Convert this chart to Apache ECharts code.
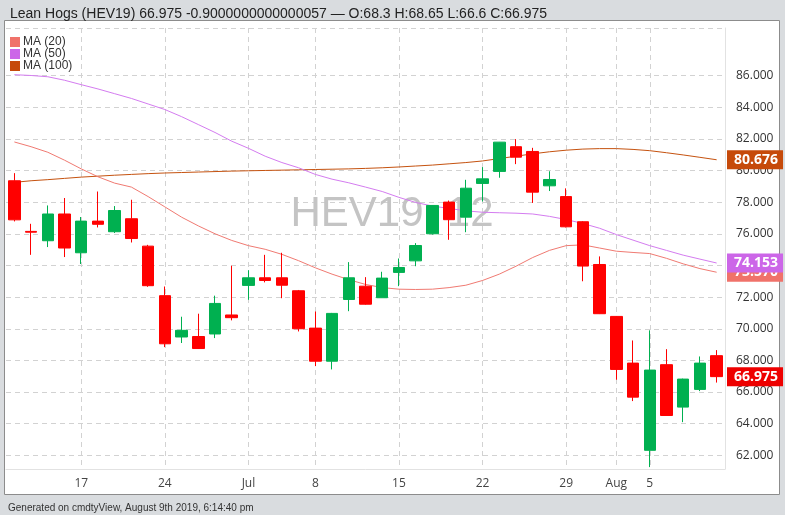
<!DOCTYPE html>
<html>
<head>
<meta charset="utf-8">
<title>Lean Hogs (HEV19)</title>
<script src="https://cdn.jsdelivr.net/npm/echarts@6/dist/echarts.min.js"></script>
<style>
    html, body { margin: 0; padding: 0; background: #d9dcdf; }
    #chart { width: 785px; height: 515px; }
</style>
</head>
<body>
<div id="chart"></div>
<script>
// trading days, 11 Jun - 9 Aug 2019 (Jul 4 closed)
var dates = ['6/11','6/12','6/13','6/14','6/17','6/18','6/19','6/20','6/21',
    '6/24','6/25','6/26','6/27','6/28','7/1','7/2','7/3','7/5',
    '7/8','7/9','7/10','7/11','7/12','7/15','7/16','7/17','7/18','7/19',
    '7/22','7/23','7/24','7/25','7/26','7/29','7/30','7/31','8/1','8/2',
    '8/5','8/6','8/7','8/8','8/9'];

var opens  = [79.35,76.15,75.56,77.25,74.80,76.80,76.13,76.95,75.22,
    72.09,69.48,69.51,69.67,70.87,72.74,73.22,73.22,72.40,
    70.04,67.95,71.85,72.69,71.96,73.56,74.29,76.00,78.00,77.05,
    79.18,79.94,81.50,81.20,79.03,78.35,76.76,74.06,70.78,67.83,
    62.32,67.73,65.05,66.17,68.30];
var highs  = [79.83,76.63,77.79,78.26,77.06,78.67,77.75,78.15,75.30,
    72.67,70.76,70.95,72.09,73.98,73.70,74.67,74.80,72.45,
    71.09,71.00,74.21,73.26,73.60,74.44,75.41,77.80,78.10,79.41,
    80.21,81.80,81.98,81.43,79.95,78.87,76.80,74.57,70.80,69.26,
    69.90,68.71,66.85,68.25,68.65];
var lows   = [76.78,74.67,75.16,74.53,74.09,76.40,76.05,75.45,72.65,
    68.84,69.10,68.72,69.41,70.53,71.83,72.93,71.93,69.83,
    67.64,67.43,71.11,71.52,71.96,72.69,73.95,75.95,75.62,76.10,
    78.04,79.54,80.40,77.95,78.70,76.40,73.00,70.93,66.78,65.43,
    61.26,64.52,64.10,66.06,66.60];
var closes = [76.88,76.10,77.25,75.10,76.80,76.60,77.47,75.70,72.72,
    69.05,69.90,68.75,71.60,70.70,73.22,73.05,72.75,70.00,
    67.95,70.97,73.22,71.55,73.20,73.87,75.26,77.79,76.89,78.88,
    79.47,81.79,80.84,78.63,79.43,76.44,73.96,70.95,67.43,65.68,
    67.39,64.52,66.82,67.83,66.975];

var ma20  = [81.80,81.50,81.15,80.65,80.10,79.60,79.20,78.95,78.35,
    77.70,77.05,76.50,76.00,75.58,75.25,75.02,74.70,74.30,
    73.85,73.45,73.10,72.80,72.60,72.50,72.48,72.50,72.60,72.75,
    73.05,73.45,73.95,74.50,74.95,75.25,75.30,75.10,74.90,74.82,
    74.75,74.45,74.10,73.80,73.57];
var ma50  = [86.05,86.00,85.92,85.70,85.42,85.15,84.85,84.55,84.20,
    83.85,83.40,82.90,82.40,81.85,81.40,80.90,80.50,80.17,
    79.75,79.45,79.22,78.95,78.67,78.30,77.98,77.75,77.60,77.45,
    77.36,77.33,77.30,77.25,77.10,76.90,76.65,76.35,75.95,75.60,
    75.25,74.95,74.65,74.40,74.153];
var ma100 = [79.25,79.35,79.42,79.50,79.58,79.64,79.70,79.75,79.80,
    79.84,79.87,79.90,79.93,79.96,79.98,80.00,80.02,80.04,
    80.06,80.08,80.10,80.13,80.17,80.22,80.28,80.34,80.42,80.50,
    80.60,80.75,80.90,81.05,81.18,81.28,81.35,81.38,81.38,81.33,
    81.25,81.12,80.98,80.83,80.676];

var xTickIndex = [4, 9, 14, 18, 23, 28, 33, 36, 38];
var xTickText  = ['17', '24', 'Jul', '8', '15', '22', '29', 'Aug', '5'];
var yTicks = [62, 64, 66, 68, 70, 72, 74, 76, 78, 80, 82, 84, 86];

var candles = [];
for (var i = 0; i < dates.length; i++) {
    candles.push([opens[i], closes[i], lows[i], highs[i]]);
}

function isTick(idx) { return xTickIndex.indexOf(idx) >= 0; }

// coloured tag on the price axis for the last value
function lastTag(v, bg) {
    return {
        symbol: 'none', silent: true, animation: false, precision: 3,
        lineStyle: { color: 'rgba(0,0,0,0)', width: 1 },
        label: {
            show: true, position: 'end', distance: 2,
            formatter: function (p) { return Number(p.value).toFixed(3); },
            backgroundColor: bg, color: '#fff', fontSize: 14, fontWeight: 'bold',
            fontFamily: 'Open Sans', padding: [3, 5, 2, 7]
        },
        data: [{ yAxis: v }]
    };
}

var mychart = echarts.init(document.getElementById('chart'));
var options = {
    backgroundColor: '#d9dcdf',
    animation: false,
    textStyle: { fontFamily: 'Liberation Sans, Arial, sans-serif' },
    title: [
        { text: 'Lean Hogs (HEV19) 66.975 -0.9000000000000057 \u2014 O:68.3 H:68.65 L:66.6 C:66.975',
          left: 5, top: 2, textStyle: { fontSize: 14, fontWeight: 'normal', color: '#222' } },
        { text: 'Generated on cmdtyView, August 9th 2019, 6:14:40 pm',
          left: 3, top: 498, textStyle: { fontSize: 10, fontWeight: 'normal', color: '#333' } }
    ],
    graphic: [
        { type: 'rect', z: -10, shape: { x: 4.5, y: 20.5, width: 775, height: 474 },
          style: { fill: '#fff', stroke: '#8c8c8c', lineWidth: 1 } },
        { type: 'text', z: 1, x: 392, y: 214,
          style: { text: 'HEV19, 12', align: 'center', verticalAlign: 'middle',
                   fontSize: 42, fontFamily: 'Liberation Sans', fill: '#c4c4c4' } }
    ],
    legend: {
        data: ['MA (20)', 'MA (50)', 'MA (100)'],
        orient: 'vertical', left: 5, top: 31, itemWidth: 10, itemHeight: 10, itemGap: 0,
        icon: 'rect', textStyle: { fontSize: 12, lineHeight: 12, color: '#333', padding: [0, 0, 0, -2] }
    },
    grid: { left: 6, right: 60, top: 28, height: 441 },
    xAxis: {
        type: 'category', data: dates, boundaryGap: true,
        axisLine: { show: true, lineStyle: { color: '#e2e2e2' } },
        axisTick: { show: false },
        axisLabel: {
            interval: function (idx) { return isTick(idx); },
            formatter: function (v, idx) { return xTickText[xTickIndex.indexOf(idx)] || ''; },
            color: '#444', fontSize: 12, fontFamily: 'Open Sans', margin: 9
        },
        splitLine: {
            show: true, alignWithLabel: true,
            interval: function (idx) { return isTick(idx); },
            lineStyle: { color: '#d2d2d2', type: [5, 4] }
        }
    },
    yAxis: {
        type: 'value', position: 'right', scale: true, min: 61.14, max: 89,
        axisLine: { show: true, lineStyle: { color: '#e2e2e2' } },
        axisTick: { show: false, customValues: yTicks.concat([89]) },
        axisLabel: {
            customValues: yTicks,
            formatter: function (v) { return v.toFixed(3); },
            color: '#333', fontSize: 12, fontFamily: 'Open Sans', margin: 11
        },
        splitLine: { show: true, lineStyle: { color: '#d2d2d2', type: [5, 4] } }
    },
    series: [
        {
            name: 'MA (100)', type: 'line', data: ma100, symbol: 'none', z: 3, clip: false,
            lineStyle: { width: 1, color: '#c5520f' }, itemStyle: { color: '#c64a0a' },
            markLine: lastTag(ma100[ma100.length - 1], '#c64a0a')
        },
        {
            name: 'MA (20)', type: 'line', data: ma20, symbol: 'none', z: 3, clip: false,
            lineStyle: { width: 1, color: '#f07a72' }, itemStyle: { color: '#f0726a' },
            markLine: lastTag(ma20[ma20.length - 1], '#f0726a')
        },
        {
            name: 'MA (50)', type: 'line', data: ma50, symbol: 'none', z: 3, clip: false,
            lineStyle: { width: 1, color: '#d47cf0' }, itemStyle: { color: '#cc66e8' },
            markLine: lastTag(ma50[ma50.length - 1], '#cc66e8')
        },
        {
            name: 'HEV19', type: 'candlestick', data: candles, barWidth: 12, z: 4, clip: false,
            itemStyle: {
                color: '#00b050', color0: '#ff0000',
                borderColor: '#00b050', borderColor0: '#ff0000', borderWidth: 1
            },
            markLine: lastTag(closes[closes.length - 1], '#ee0000')
        }
    ]
};
mychart.setOption(options);
</script>
</body>
</html>
